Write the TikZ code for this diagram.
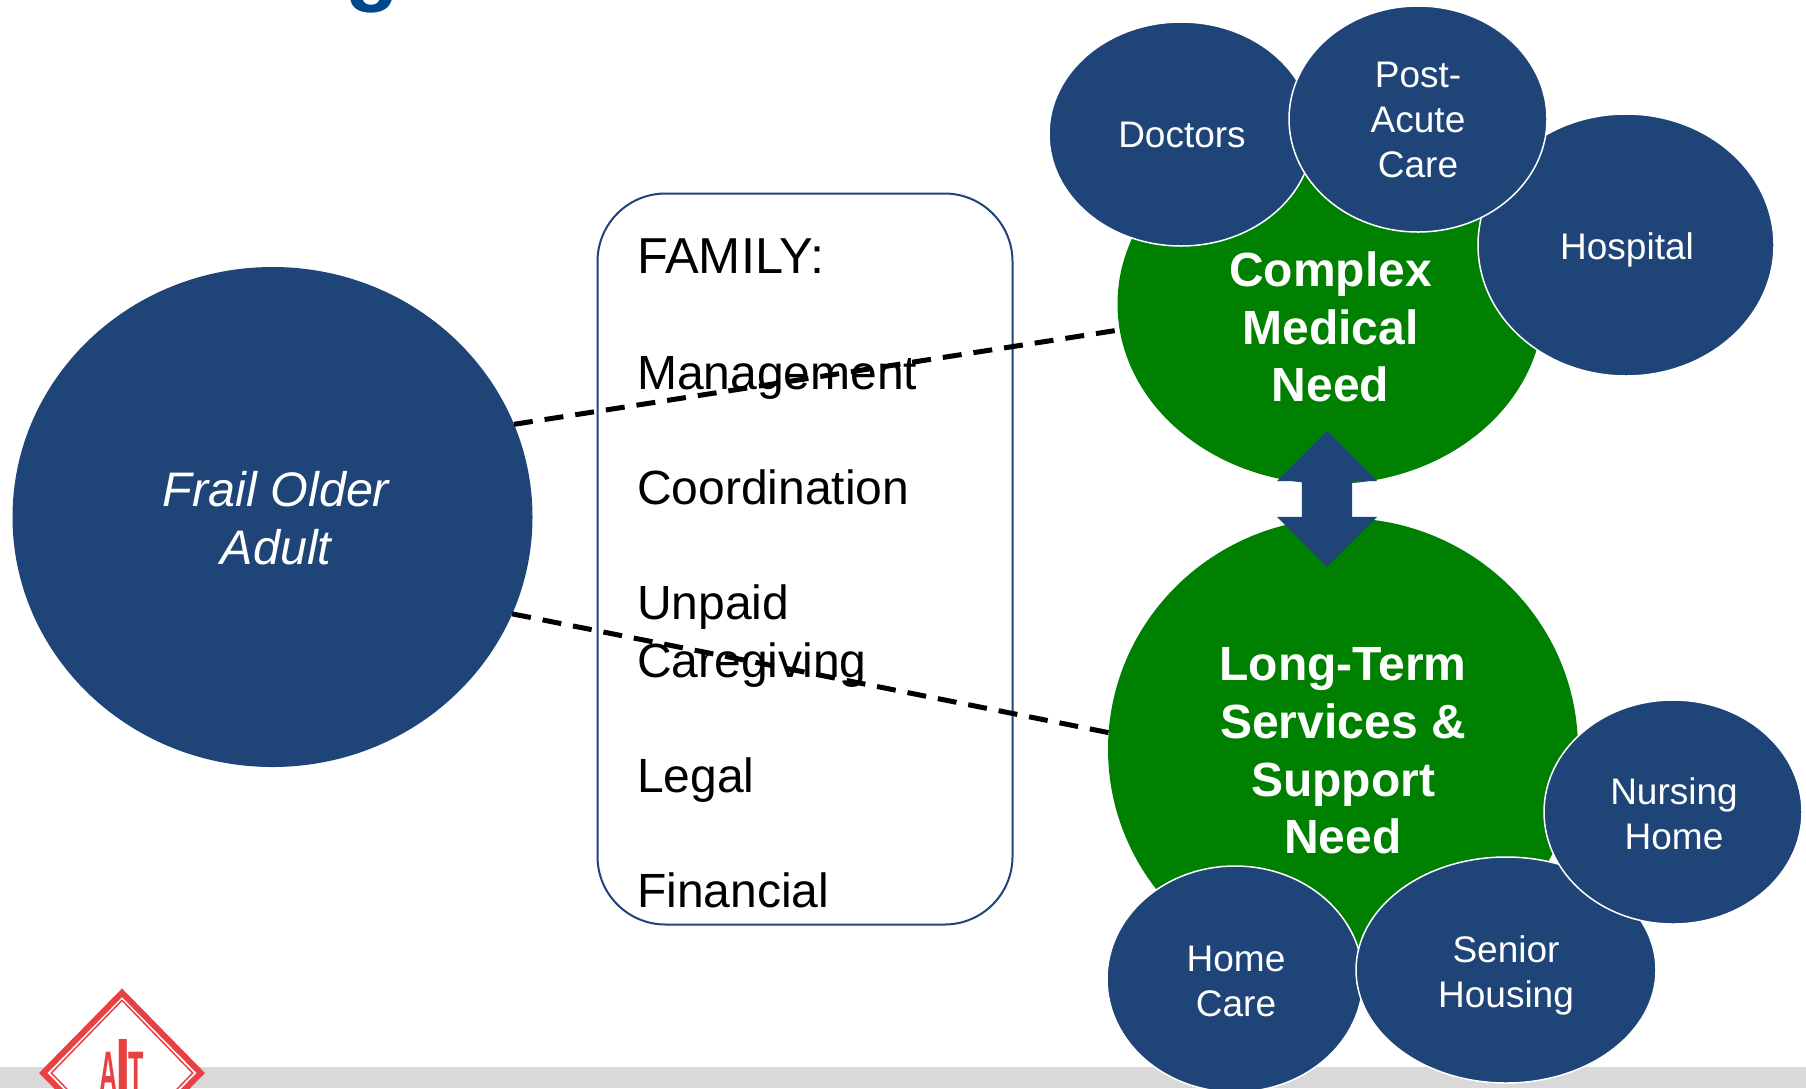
\documentclass[tikz,border=0pt]{standalone}
\usepackage{fontspec}
\setmainfont{Liberation Sans}
\usetikzlibrary{shapes.geometric,shapes.arrows}
\definecolor{navy}{HTML}{1F4578}
\definecolor{titleblue}{HTML}{00478F}
\definecolor{leaf}{HTML}{008000}
\definecolor{logored}{HTML}{E84142}
\definecolor{band}{HTML}{D9D9D9}
\tikzset{
    smallcircle/.style={draw=white, line width=1.5pt, ellipse, fill=navy, inner sep=0pt, outer sep=0pt},
    smalltext/.style={text=white, inner sep=0pt, align=center, font=\fontsize{37}{45}\selectfont},
    needcircle/.style={ellipse, fill=leaf, inner sep=0pt, outer sep=0pt},
    needtext/.style={text=white, inner sep=0pt, align=center, font=\fontsize{48}{57.6}\bfseries\selectfont},
    logoletter/.style={anchor=base, text=logored, inner sep=0pt, font=\fontsize{60}{60}\bfseries\selectfont},
    dashline/.style={line width=5pt, dash pattern=on 19pt off 12pt}
}
\begin{document}
\begin{tikzpicture}[x=1pt, y=-1pt]
    \useasboundingbox (0,0) rectangle (1806,1088);

    % Footer band and title
    \fill[band] (0,1067) rectangle (1806,1088);
    \node[anchor=base, text=titleblue, font=\fontsize{88}{88}\bfseries\selectfont] (title) at (372,-6) {g};

    % Logo
    \node[diamond, draw=logored, line width=6pt, fill=white, minimum width=160pt, minimum height=163pt, inner sep=0pt] (logo) at (122,1073) {};
    \node[diamond, draw=logored, line width=1.5pt, minimum width=142pt, minimum height=146pt, inner sep=0pt] (logoinner) at (122,1073) {};
    \node[logoletter, xscale=0.42] (logoa) at (109,1093) {A};
    \node[logoletter, xscale=0.7, font=\fontsize{80}{80}\bfseries\selectfont] (logoi) at (123,1094) {I};
    \node[logoletter, xscale=0.42] (logot) at (136.5,1093) {T};

    % Older adult
    \node[ellipse, fill=navy, minimum width=520pt, minimum height=500pt, inner sep=0pt, outer sep=0pt] (adult) at (272.5,517) {};
    \node[text=white, inner sep=0pt, align=center, font=\fontsize{48.5}{57.6}\itshape\selectfont] (adulttext) at (276,518) {Frail Older\\Adult};

    % Family box
    \node[draw=navy, line width=2pt, rectangle, rounded corners=68pt, fill=white, minimum width=415pt, minimum height=731pt] (family) at (805,559) {};
    \node[anchor=north west, inner sep=0pt, align=left, font=\fontsize{48}{57.6}\selectfont] (familytext) at (637,239) {{\fontsize{50.5}{57.6}\selectfont FAMILY:}\\\\Management\\\\Coordination\\\\Unpaid\\Caregiving\\\\Legal\\\\Financial};

    % Needs
    \node[needcircle, minimum width=426pt, minimum height=360pt] (complex) at (1330.5,304) {};
    \node[needtext] (complextext) at (1330.5,327) {Complex\\Medical\\Need};
    \node[needcircle, minimum width=470pt, minimum height=462pt] (longterm) at (1343,749) {};
    \node[needtext] (longtermtext) at (1343,751) {Long-Term\\Services \&\\Support\\Need};

    % Between the needs
    \node[double arrow, fill=navy, rotate=90, minimum height=136pt, minimum width=100pt, double arrow head extend=25pt, inner xsep=0pt, inner ysep=25pt] (between) at (1327,499) {};

    % Connections
    \draw[dashline] (adult.21) -- (complex.187);
    \draw[dashline] (adult.-22.6) -- (longterm.176);

    % Medical side
    \node[smallcircle, minimum width=264pt, minimum height=224pt] (doctors) at (1181,134) {};
    \node[smalltext] (doctorstext) at (1182,135) {Doctors};
    \node[smallcircle, minimum width=296pt, minimum height=262pt] (hospital) at (1626,245) {};
    \node[smalltext] (hospitaltext) at (1627,250) {Hospital};
    \node[smallcircle, minimum width=258pt, minimum height=226pt] (postacute) at (1418,119) {};
    \node[smalltext] (postacutetext) at (1418,120) {Post-\\Acute\\Care};

    % Long-term side
    \node[smallcircle, minimum width=256pt, minimum height=226pt] (homecare) at (1235,979) {};
    \node[smalltext] (homecaretext) at (1236,981) {Home\\Care};
    \node[smallcircle, minimum width=300pt, minimum height=226pt] (senior) at (1506,970) {};
    \node[smalltext] (seniortext) at (1506,975) {Senior\\Housing};
    \node[smallcircle, minimum width=258pt, minimum height=224pt] (nursing) at (1673,812) {};
    \node[smalltext] (nursingtext) at (1674,814) {Nursing\\Home};
\end{tikzpicture}
\end{document}
